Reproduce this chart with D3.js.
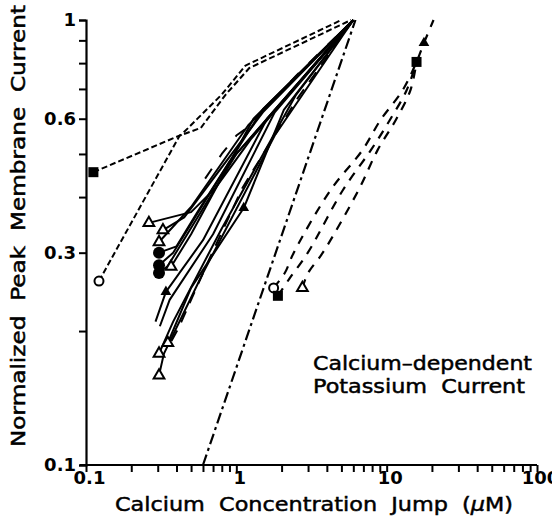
<!DOCTYPE html>
<html>
<head>
<meta charset="utf-8">
<script src="https://cdn.jsdelivr.net/npm/d3@7"></script>
<style>
	body { margin: 0; background: white; }
	svg text { font-family: "DejaVu Sans", sans-serif; fill: black; }
</style>
</head>
<body>
<div id="app"></div>
<script>
// Normalized peak membrane current vs. calcium concentration jump (log-log).

var width = 552, height = 518;
var xTickLabels = [0.1, 1, 10, 100];
var yTickValues = [0.1, 0.2, 0.3, 0.4, 0.5, 0.6, 0.7, 0.8, 0.9, 1];
var yTickLabels = [0.1, 0.3, 0.6, 1];

// Short-dashed series.
var sqDash = [[0.112, 0.455], [0.43, 0.552], [0.8, 0.68], [1.15, 0.79], [5.0, 1]];
var circDash = [[0.122, 0.259], [0.42, 0.55], [0.58, 0.572], [0.85, 0.68], [1.22, 0.78], [5.8, 1]];

// Dash-dot reference line.
var dashDot = [[0.6, 0.1], [6.2, 1]];

// Long-dashed series on the right.
var longA = [[1.77, 0.25], [2.1, 0.27], [2.41, 0.30], [4.24, 0.415], [6.9, 0.51], [9.1, 0.596], [12.8, 0.696], [15.8, 0.805], [17.7, 0.888], [20.5, 1]];
var longB = [[1.89, 0.24], [2.25, 0.262], [2.99, 0.30], [5.12, 0.415], [7.85, 0.51], [10.5, 0.596], [13.6, 0.696], [15.8, 0.805]];
var longC = [[2.75, 0.25], [3.0, 0.27], [3.76, 0.30], [6.5, 0.415], [8.7, 0.51], [11.5, 0.596], [14.4, 0.696], [15.8, 0.805]];

// Long-dashed runs inside the solid bundle.
var longIn1 = [[0.37, 0.19], [0.415, 0.204], [0.66, 0.29], [1.1, 0.42], [2.5, 0.66], [6.0, 1]];
var longIn2 = [[0.62, 0.44], [0.8, 0.5], [1.0, 0.55], [1.2, 0.575], [2.5, 0.75], [6.0, 1]];

// Solid runs, all meeting near 6 uM.
var solid1 = [[0.262, 0.35], [0.5, 0.37], [0.73, 0.42], [1.25, 0.54], [2.68, 0.73], [6.0, 1]];
var solid2 = [[0.325, 0.337], [0.45, 0.36], [0.6, 0.41], [1.5, 0.62], [6.0, 1]];
var solid3 = [[0.306, 0.317], [0.5, 0.38], [1.2, 0.58], [6.0, 1]];
var solid4 = [[0.306, 0.30], [0.4, 0.31], [0.55, 0.37], [1.5, 0.63], [6.0, 1]];
var solid5 = [[0.306, 0.281], [0.38, 0.30], [0.9, 0.48], [6.0, 1]];
var solid6 = [[0.306, 0.27], [0.35, 0.28], [1.0, 0.5], [6.0, 1]];
var solid7 = [[0.368, 0.279], [0.5, 0.33], [1.3, 0.6], [6.0, 1]];
var solid8 = [[0.29, 0.21], [0.34, 0.245], [0.6, 0.32], [1.6, 0.6], [6.0, 1]];
var solid9 = [[0.31, 0.205], [0.36, 0.235], [0.7, 0.33], [1.8, 0.62], [6.0, 1]];
var solid10 = [[0.35, 0.188], [0.5, 0.25], [1.12, 0.378], [2.07, 0.628], [6.0, 1]];
var solid11 = [[0.306, 0.178], [0.38, 0.21], [0.8, 0.34], [2.5, 0.68], [6.0, 1]];
var solid12 = [[0.306, 0.159], [0.33, 0.178], [0.6, 0.27], [1.8, 0.55], [6.0, 1]];

// Markers.
var openTriangles = [[0.262, 0.35], [0.325, 0.337], [0.306, 0.317], [0.368, 0.279], [0.35, 0.188], [0.306, 0.178], [0.306, 0.159], [2.75, 0.25]];
var filledTriangles = [[0.34, 0.245], [1.12, 0.378], [17.7, 0.888]];
var filledCircles = [[0.306, 0.30], [0.306, 0.281], [0.306, 0.27]];
var openCircles = [[0.122, 0.259], [1.77, 0.25]];
var filledSquares = [[0.112, 0.455], [1.89, 0.24], [15.8, 0.805]];

var svg = d3.select("#app").append("svg")
	.attr("width", width).attr("height", height);

var x = d3.scaleLog().domain([0.1, 100]).range([86, 537]);
var y = d3.scaleLog().domain([0.1, 1]).range([465, 20]);

var line = d3.line()
	.x(function (d) {return x(d[0]);})
	.y(function (d) {return y(d[1]);});
var smoothLine = d3.line()
	.curve(d3.curveCatmullRom)
	.x(function (d) {return x(d[0]);})
	.y(function (d) {return y(d[1]);});

function drawRun (data, dash, w, gen)
{
	svg.append("path")
		.attr("d", (gen || line)(data))
		.attr("fill", "none")
		.attr("stroke", "black")
		.attr("stroke-width", w)
		.attr("stroke-linejoin", "round")
		.attr("stroke-dasharray", dash);
}

[solid1, solid2, solid3, solid4, solid5, solid6, solid7, solid8, solid9, solid10, solid11, solid12]
	.forEach(function (d) {drawRun(d, null, 2);});
drawRun(longIn1, "12,9", 2);
drawRun(longIn2, "12,14", 2);
drawRun(sqDash, "6,3", 2);
drawRun(circDash, "6,3", 2);
drawRun(dashDot, "11,4,3,4", 2.2);
[longA, longB, longC].forEach(function (d) {drawRun(d, "9,8", 2.2, smoothLine);});

// Axes: ticks point outward, log minor ticks.
var xTicks = [];
[0.1, 1, 10].forEach(function (dec)
{
	for (var k = 1; k < 10; k++)
		xTicks.push(dec * k);
});
xTicks.push(100);

var xAxis = d3.axisBottom(x)
	.tickValues(xTicks)
	.tickSize(7)
	.tickFormat(function (d) {return xTickLabels.indexOf(+d.toPrecision(3)) >= 0 ? d3.format("~g")(+d.toPrecision(3)) : "";});
var gx = svg.append("g").attr("transform", "translate(0,465)").call(xAxis);

var yAxis = d3.axisLeft(y)
	.tickValues(yTickValues)
	.tickSize(7)
	.tickFormat(function (d) {return yTickLabels.indexOf(+d.toPrecision(3)) >= 0 ? d3.format("~g")(+d.toPrecision(3)) : "";});
var gy = svg.append("g").attr("transform", "translate(86,0)").call(yAxis);

[gx, gy].forEach(function (g)
{
	g.select(".domain").attr("stroke", "black").attr("stroke-width", 2.2);
	g.selectAll(".tick line").attr("stroke", "black").attr("stroke-width", 2);
	g.selectAll(".tick text")
		.style("font-family", "DejaVu Sans, sans-serif")
		.style("font-size", "18px")
		.style("font-weight", "bold")
		.attr("fill", "black");
});
gx.select(".domain").attr("d", "M80,0H537");
gx.selectAll(".tick text").attr("y", 6).attr("dx", 3);
gy.selectAll(".tick text").attr("x", -10);

// Markers.
var tri = d3.symbol().type(d3.symbolTriangle).size(50);
svg.selectAll(".otri").data(openTriangles).enter().append("path")
	.attr("d", tri)
	.attr("transform", function (d) {return "translate(" + x(d[0]) + "," + y(d[1]) + ")";})
	.attr("fill", "white").attr("stroke", "black").attr("stroke-width", 2);
svg.selectAll(".ftri").data(filledTriangles).enter().append("path")
	.attr("d", tri)
	.attr("transform", function (d) {return "translate(" + x(d[0]) + "," + y(d[1]) + ")";})
	.attr("fill", "black");
svg.selectAll(".fcirc").data(filledCircles).enter().append("circle")
	.attr("cx", function (d) {return x(d[0]);})
	.attr("cy", function (d) {return y(d[1]);})
	.attr("r", 6).attr("fill", "black");
svg.selectAll(".ocirc").data(openCircles).enter().append("circle")
	.attr("cx", function (d) {return x(d[0]);})
	.attr("cy", function (d) {return y(d[1]);})
	.attr("r", 4.5).attr("fill", "white").attr("stroke", "black").attr("stroke-width", 2);
svg.selectAll(".fsq").data(filledSquares).enter().append("rect")
	.attr("x", function (d) {return x(d[0]) - 5;})
	.attr("y", function (d) {return y(d[1]) - 5;})
	.attr("width", 10).attr("height", 10).attr("fill", "black");

// Titles (slight stroke to match the heavier print face).
function title (sel)
{
	return sel.style("font-size", "20px")
		.attr("stroke", "black").attr("stroke-width", 0.5)
		.attr("lengthAdjust", "spacingAndGlyphs");
}

title(svg.append("text"))
	.attr("x", 115).attr("y", 511)
	.attr("textLength", 398)
	.html("Calcium&#160; Concentration&#160; Jump&#160; (<tspan font-style=\"italic\">μ</tspan>M)");

title(svg.append("text"))
	.attr("transform", "translate(25,447) rotate(-90)")
	.attr("textLength", 442)
	.text("Normalized\u00a0 Peak\u00a0 Membrane\u00a0 Current");

title(svg.append("text"))
	.attr("x", 313).attr("y", 370)
	.attr("textLength", 219)
	.text("Calcium\u2013dependent");
title(svg.append("text"))
	.attr("x", 313).attr("y", 393)
	.attr("textLength", 212)
	.text("Potassium\u00a0 Current");
</script>
</body>
</html>
